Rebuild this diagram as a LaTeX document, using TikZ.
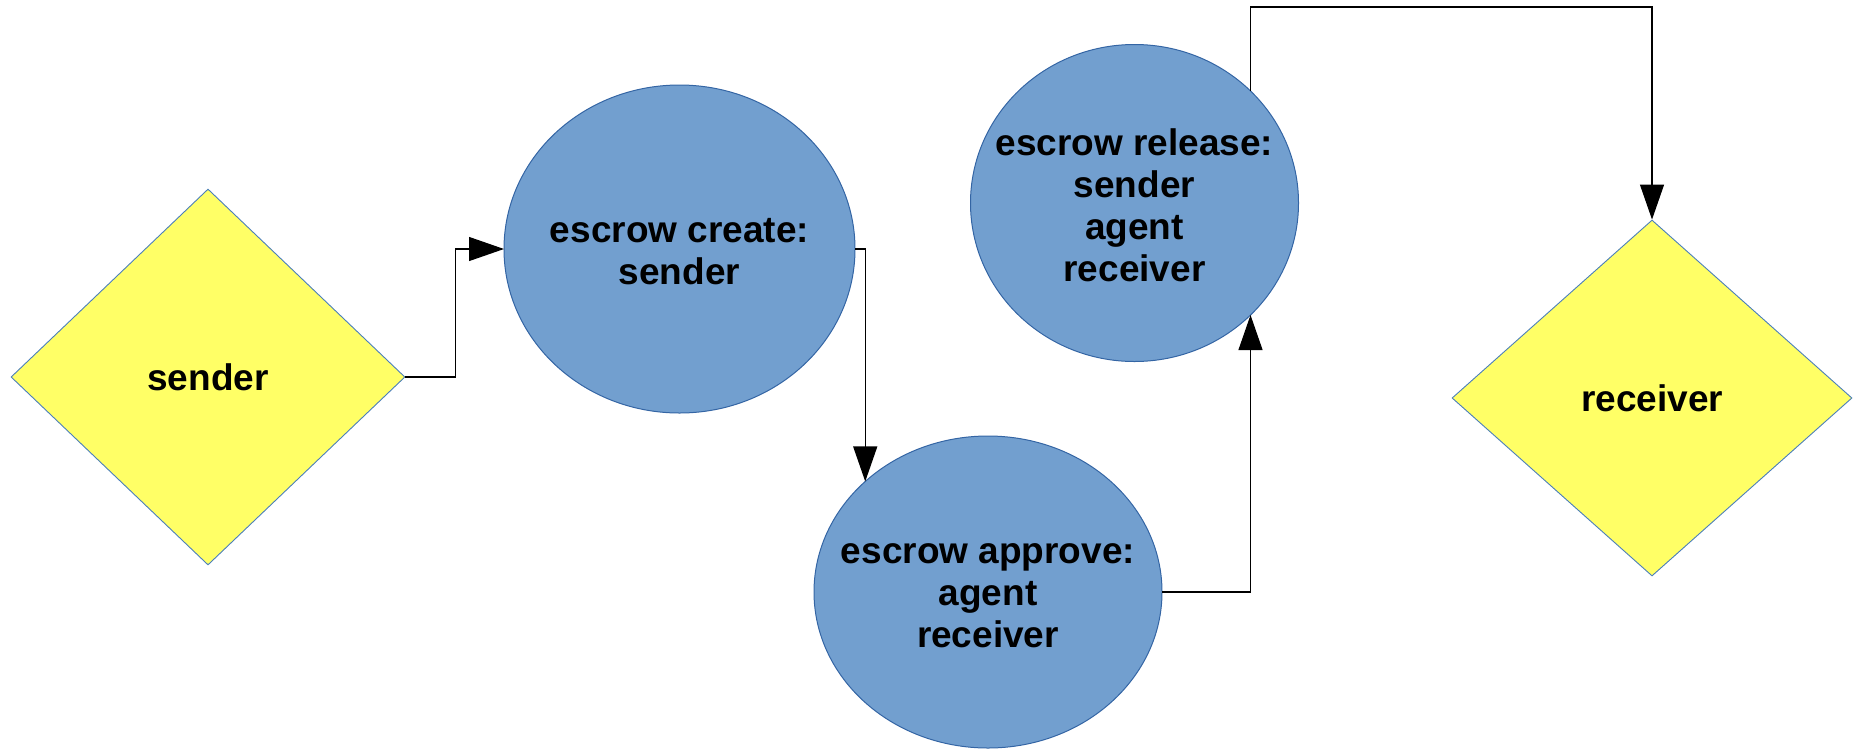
\documentclass[tikz,border=0pt]{standalone}
\usepackage{fontspec}
\setmainfont{Liberation Sans}
\usetikzlibrary{shapes.geometric,arrows.meta}
\definecolor{stateblue}{HTML}{729FCF}
\definecolor{stateedge}{HTML}{3465A4}
\definecolor{partyfill}{HTML}{FFFF66}
\definecolor{partyedge}{HTML}{4A7EBB}
\tikzset{
  lbl/.style={font=\fontsize{37}{42}\selectfont\bfseries, text=black, align=center, inner sep=0pt},
  party/.style={lbl, shape=diamond, fill=partyfill, draw=partyedge, line width=0.9pt, inner sep=0pt, aspect=1},
  state/.style={shape=ellipse, fill=stateblue, draw=stateedge, line width=1pt, inner sep=0pt, outer sep=0pt},
  flow/.style={draw=black, line width=1.2pt, -{Triangle[length=35pt,width=24pt]}}
}
\begin{document}
\begin{tikzpicture}[x=1pt,y=-1pt]
  \useasboundingbox (0,0) rectangle (1854,748);

  % parties
  \node[party, minimum width=394pt, minimum height=376pt] (snd) at (208,377) {sender};
  \node[party, minimum width=400pt, minimum height=356pt] (rcv) at (1652,398) {receiver};

  % escrow steps (outline first, text on top)
  \node[state, minimum width=351pt, minimum height=328pt] (create) at (679.5,249) {};
  \node[state, minimum width=348pt, minimum height=312pt] (approve) at (988,592) {};
  \node[state, minimum width=328pt, minimum height=317pt] (release) at (1134.5,203) {};

  \node[lbl] (createtxt) at ([yshift=-3pt]create.center) {escrow create:\\sender};
  \node[lbl] (approvetxt) at ([yshift=-4pt]approve.center) {escrow approve:\\agent\\receiver};
  \node[lbl] (releasetxt) at ([yshift=-2pt]release.center) {escrow release:\\sender\\agent\\receiver};

  \coordinate (topline) at (0,7);

  % connectors
  \draw[flow] (snd.east) -- ++(50,0) |- (create.west);
  \draw[flow] (create.east) -| (approve.138);
  \draw[flow] (approve.east) -| (release.316);
  \draw[flow] (release.44) |- (topline -| rcv.north) -- (rcv.north);
\end{tikzpicture}
\end{document}
